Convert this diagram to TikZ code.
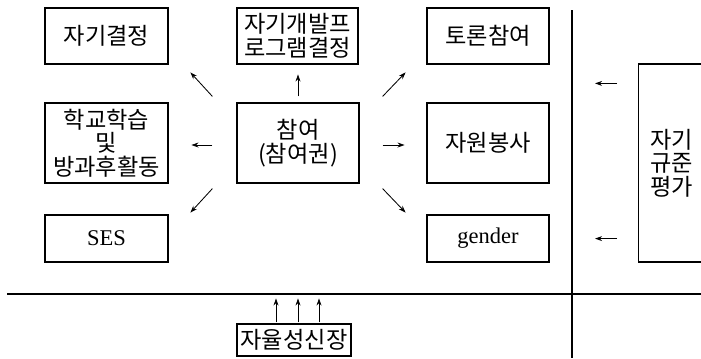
\documentclass[tikz,border=0pt]{standalone}
\usepackage{fontspec}
\setmainfont{Liberation Serif}
\newfontfamily\kr{Noto Sans CJK KR}
\usetikzlibrary{arrows.meta}

\tikzset{
	vak/.style={draw, line width=0.8pt, align=center, inner sep=1pt, font=\kr\fontsize{16.5}{16.7}\selectfont},
	latijn/.style={font=\fontsize{16}{17}\selectfont},
	pijl/.style={-{Stealth[length=5pt, width=3.5pt]}, line width=0.6pt},
	lijn/.style={line width=0.8pt}
}

\begin{document}
\begin{tikzpicture}[x=0.025cm, y=-0.025cm]

				\useasboundingbox (0,0) rectangle (701,358);
				\clip (0,0) rectangle (701,358);

				\node[vak, minimum width=3.075cm, minimum height=1.4cm] (zelfbeslis) at (106.5,36) {자기결정};
				\node[vak, minimum width=3.025cm, minimum height=1.4cm] (programma) at (297.5,36) {자기개발프\\로그램결정};
				\node[vak, minimum width=3.05cm, minimum height=1.4cm] (debat) at (488,36) {토론참여};

				\node[vak, minimum width=3.075cm, minimum height=2cm] (school) at (106.5,143) {학교학습\\및\\방과후활동};
				\node[vak, minimum width=3.05cm, minimum height=2cm] (deelname) at (298,143) {참여\\(참여권)};
				\node[vak, minimum width=3.05cm, minimum height=2cm] (vrijwillig) at (488,143) {자원봉사};

				\node[vak, latijn, minimum width=3.075cm, minimum height=1.175cm] (ses) at (106.5,238.5) {SES};
				\node[vak, latijn, minimum width=3.05cm, minimum height=1.175cm] (geslacht) at (488,238.5) {gender};

				\node[vak, anchor=west, inner xsep=0.3cm, text width=2.45cm, align=left, minimum height=4.95cm] (evaluatie) at (638,163) {자기\\규준\\평가};

				\node[vak, minimum width=2.85cm, minimum height=0.8cm] (autonomie) at (294,340) {자율성신장};

				\coordinate (linkslijn) at (7,294);
				\coordinate (rechtslijn) at (701,294);
				\coordinate (bovenlijn) at (572,10);
				\coordinate (onderlijn) at (572,358);
				\draw[lijn] (linkslijn) -- (rechtslijn);
				\draw[lijn] (bovenlijn) -- (onderlijn);

				\draw[pijl] ([shift={(-24,-6)}]deelname.north west) -- ++(-22,-24);
				\draw[pijl] ([shift={(0,-6)}]deelname.north) -- ++(0,-22);
				\draw[pijl] ([shift={(23,-6)}]deelname.north east) -- ++(23,-24);
				\draw[pijl] ([shift={(-24,2)}]deelname.west) -- ++(-21,0);
				\draw[pijl] ([shift={(23,2)}]deelname.east) -- ++(22,0);
				\draw[pijl] ([shift={(-24,5)}]deelname.south west) -- ++(-22,24);
				\draw[pijl] ([shift={(23,5)}]deelname.south east) -- ++(23,24);

				\draw[pijl] ([shift={(-21,20)}]evaluatie.north west) -- ++(-22,0);
				\draw[pijl] ([shift={(-21,-24)}]evaluatie.south west) -- ++(-22,0);

				\foreach \dx in {-18,4,25}
					\draw[pijl] ([shift={(\dx,-1)}]autonomie.north) -- ++(0,-24);

			\end{tikzpicture}
\end{document}
